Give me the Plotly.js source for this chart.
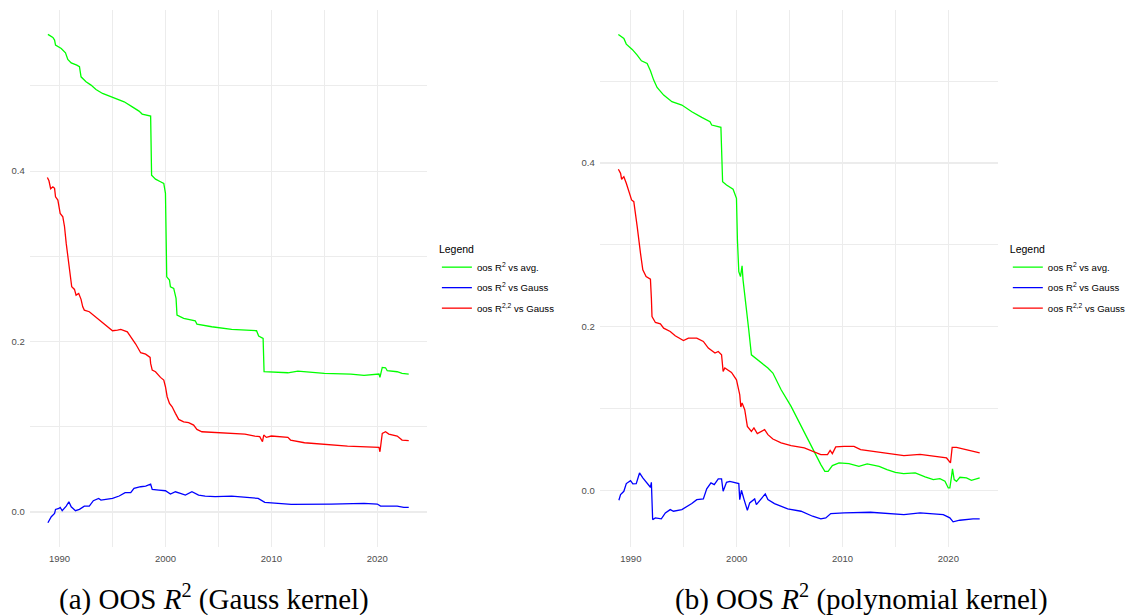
<!DOCTYPE html>
<html>
<head>
<meta charset="utf-8">
<script src="https://cdn.plot.ly/plotly-3.0.1.min.js"></script>
<style>html,body{margin:0;padding:0;background:#fff;}#chart{width:1131px;height:615px;}</style>
</head>
<body>
<div id="chart"></div>
<script>
// ---- Panel (a): Gauss kernel ----
const gaussAvgYears = [1988.9,1989.37,1989.53,1989.62,1990.16,1990.56,1990.78,1991.1,1991.63,1991.88,1992.03,1992.5,1992.97,1993.44,1994.06,1995.0,1996.1,1996.87,1997.5,1997.8,1998.6,1998.69,1999.06,1999.53,1999.84,2000.0,2000.12,2000.38,2000.47,2000.78,2001.0,2001.09,2001.72,2002.81,2002.97,2004.37,2006.25,2008.6,2008.8,2009.22,2009.31,2011.56,2012.5,2015.0,2017.5,2018.75,2020.16,2020.25,2020.47,2020.78,2020.94,2021.88,2022.34,2022.97];
const gaussAvgVals = [0.5604,0.5568,0.5537,0.5478,0.5439,0.5388,0.531,0.527,0.5243,0.5224,0.5106,0.5048,0.5009,0.4958,0.4911,0.4864,0.4813,0.4754,0.4704,0.4669,0.4645,0.3953,0.3906,0.3875,0.3855,0.3739,0.276,0.2721,0.2643,0.2624,0.2507,0.2311,0.2272,0.2244,0.2205,0.2174,0.2143,0.2127,0.2065,0.2037,0.1646,0.1634,0.1654,0.1627,0.1619,0.1603,0.1619,0.158,0.1697,0.1693,0.1658,0.1646,0.1627,0.1619];

const gaussGaussYears = [1988.9,1989.22,1989.53,1989.62,1989.94,1990.06,1990.25,1990.63,1990.88,1991.1,1991.5,1991.88,1992.34,1992.81,1993.19,1993.69,1993.91,1995.0,1995.63,1996.19,1996.72,1997.03,1997.66,1998.13,1998.6,1998.75,1999.38,2000.0,2000.47,2000.94,2001.41,2001.88,2002.5,2003.13,2003.75,2004.69,2006.25,2007.5,2008.75,2009.38,2010.94,2011.88,2015.63,2018.75,2020.0,2020.31,2021.88,2022.5,2022.97];
const gaussGaussVals = [-0.0125,-0.0055,-0.0016,0.0031,0.0043,0.0055,0.0016,0.007,0.0121,0.0062,0.0016,0.0031,0.007,0.007,0.0133,0.016,0.0141,0.016,0.0188,0.0227,0.0227,0.0278,0.0297,0.0305,0.0328,0.0266,0.0258,0.025,0.0211,0.0238,0.0219,0.0199,0.0238,0.0199,0.0188,0.018,0.0188,0.0172,0.016,0.0113,0.0102,0.009,0.0094,0.0102,0.0094,0.007,0.007,0.0055,0.0055];

const gaussR22Years = [1988.85,1989.0,1989.16,1989.37,1989.53,1989.62,1989.84,1989.94,1990.06,1990.31,1990.47,1990.63,1990.78,1991.0,1991.15,1991.41,1991.56,1991.81,1992.03,1992.19,1992.34,1992.81,1993.44,1993.91,1994.38,1995.0,1995.47,1995.78,1996.4,1996.87,1997.19,1997.66,1998.13,1998.55,1998.6,1998.75,1999.06,1999.53,1999.84,2000.0,2000.16,2000.38,2000.63,2000.94,2001.25,2001.72,2002.19,2002.66,2002.97,2003.44,2005.0,2006.25,2007.5,2008.44,2008.9,2009.16,2009.28,2009.53,2010.0,2011.56,2011.81,2013.13,2015.0,2017.19,2020.16,2020.25,2020.47,2020.78,2021.09,2021.88,2022.34,2022.97];
const gaussR22Vals = [0.3926,0.3886,0.3793,0.3816,0.3797,0.3699,0.366,0.3601,0.3504,0.3464,0.3347,0.3152,0.2995,0.2839,0.2643,0.2612,0.2545,0.2565,0.2495,0.2408,0.2369,0.235,0.2284,0.2232,0.2182,0.2127,0.2135,0.2143,0.2115,0.2037,0.1971,0.1869,0.1853,0.1815,0.1744,0.1666,0.1646,0.158,0.1548,0.147,0.1353,0.1275,0.1235,0.1158,0.1087,0.1059,0.1048,0.102,0.097,0.0942,0.093,0.0923,0.0915,0.0892,0.0884,0.0825,0.0903,0.0876,0.0892,0.0876,0.0845,0.0813,0.0798,0.0774,0.0759,0.0707,0.0923,0.0942,0.0915,0.0892,0.0845,0.0837];

// ---- Panel (b): polynomial kernel ----
const polyAvgYears = [1988.82,1989.34,1989.57,1990.13,1990.6,1991.0,1991.54,1991.85,1992.16,1992.48,1993.1,1993.88,1994.82,1995.76,1996.7,1997.48,1997.64,1998.51,1998.67,1999.04,1999.66,1999.98,2000.07,2000.2,2000.36,2000.51,2000.6,2000.83,2001.14,2001.39,2002.17,2002.95,2003.42,2004.2,2005.14,2005.92,2006.7,2007.33,2007.95,2008.33,2008.64,2009.04,2009.67,2010.61,2011.55,2012.33,2013.46,2014.2,2014.99,2015.77,2016.87,2017.8,2018.58,2019.2,2019.68,2019.99,2020.14,2020.3,2020.39,2020.55,2020.77,2021.09,2021.71,2022.18,2022.96];
const polyAvgVals = [0.5571,0.5522,0.5453,0.5388,0.5319,0.5249,0.5217,0.5127,0.5013,0.4924,0.483,0.4749,0.4708,0.4627,0.4558,0.4504,0.4464,0.4436,0.3772,0.3732,0.3679,0.3569,0.306,0.2673,0.2612,0.2743,0.2572,0.2328,0.1962,0.1656,0.1575,0.1494,0.1433,0.1229,0.1025,0.0823,0.064,0.0457,0.0314,0.0232,0.0232,0.0302,0.0334,0.0326,0.0293,0.0322,0.0293,0.0253,0.022,0.0204,0.0212,0.0163,0.0131,0.0143,0.011,0.0029,0.0029,0.0171,0.0261,0.0131,0.011,0.0159,0.0151,0.0122,0.0151];

const polyGaussYears = [1988.87,1989.03,1989.34,1989.57,1989.97,1990.19,1990.51,1990.82,1991.13,1991.54,1991.85,1991.94,1992.06,1992.32,1992.88,1993.26,1993.72,1994.03,1994.82,1995.76,1996.23,1996.85,1997.17,1997.57,1997.88,1998.26,1998.57,1998.72,1999.04,1999.35,1999.98,2000.2,2000.29,2000.45,2000.7,2001.01,2001.23,2001.7,2001.86,2002.33,2002.7,2002.95,2003.57,2004.82,2006.08,2007.17,2007.95,2008.42,2008.89,2010.15,2012.64,2015.8,2017.33,2019.52,2020.14,2020.45,2021.08,2022.33,2022.96];
const polyGaussVals = [-0.0122,-0.0052,-0.0012,0.0082,0.0118,0.0078,0.0082,0.0212,0.0151,0.0078,0.0037,0.0098,-0.0358,-0.0337,-0.0349,-0.0276,-0.0236,-0.0256,-0.0236,-0.0162,-0.0114,-0.0105,0.0017,0.009,0.007,0.0139,0.0139,-0.0012,0.0098,0.011,0.009,0.0082,-0.0114,0.0,-0.0114,-0.0244,-0.0154,-0.0105,-0.0175,-0.0105,-0.0044,-0.0114,-0.0162,-0.0227,-0.0256,-0.0317,-0.0349,-0.0337,-0.0284,-0.0276,-0.0268,-0.0297,-0.0276,-0.0297,-0.0337,-0.0386,-0.0366,-0.0349,-0.0349];

const polyR22Years = [1988.82,1989.03,1989.13,1989.34,1989.57,1989.81,1990.07,1990.28,1990.44,1990.6,1990.91,1991.13,1991.44,1991.85,1991.94,1992.0,1992.32,1992.79,1993.1,1993.72,1994.19,1994.97,1995.44,1996.23,1996.85,1997.32,1997.95,1998.26,1998.57,1998.72,1998.88,1999.51,1999.98,2000.29,2000.39,2000.51,2000.76,2001.01,2001.39,2001.63,2001.95,2002.64,2002.95,2003.42,2004.2,2005.14,2006.39,2007.33,2007.95,2008.58,2008.83,2009.04,2009.36,2010.15,2011.08,2011.71,2013.59,2015.8,2017.33,2018.89,2019.83,2020.2,2020.36,2020.77,2021.71,2022.5,2022.96];
const polyR22Vals = [0.3923,0.3874,0.3801,0.3833,0.3752,0.365,0.3549,0.3528,0.3386,0.3223,0.2898,0.2694,0.2612,0.258,0.2349,0.2124,0.2051,0.2035,0.1982,0.1941,0.1888,0.1831,0.186,0.186,0.1819,0.1738,0.1677,0.1697,0.1656,0.1453,0.1494,0.144,0.1351,0.1168,0.1018,0.1067,0.0985,0.0781,0.072,0.0762,0.0692,0.0741,0.068,0.0627,0.0579,0.0546,0.0518,0.0464,0.0436,0.0436,0.0488,0.0448,0.053,0.0537,0.0537,0.0497,0.0464,0.0424,0.044,0.0415,0.0395,0.0334,0.0525,0.0525,0.0497,0.0476,0.0457];

// ---- labels ----
const seriesNames = ['oos R<sup>2</sup> vs avg.', 'oos R<sup>2</sup> vs Gauss', 'oos R<sup>2,2</sup> vs Gauss'];
const seriesColors = ['#00ff00', '#0000ff', '#ff0000'];
const xTickVals = [1990, 2000, 2010, 2020];
const yTickVals = [0.0, 0.2, 0.4];
const captions = ['(a) OOS <i>R</i><sup>2</sup> (Gauss kernel)', '(b) OOS <i>R</i><sup>2</sup> (polynomial kernel)'];
const legendTitle = 'Legend';

const W = 1131, H = 615;
const px = v => v / W;
const py = v => 1 - v / H;

function mk(x, y, i, xa, ya, lg) {
  return {x: x, y: y, type: 'scatter', mode: 'lines', name: seriesNames[i],
    line: {color: seriesColors[i], width: 1.3}, xaxis: xa, yaxis: ya, legend: lg,
    legendgroup: lg + '_' + i, hoverinfo: 'skip'};
}
const traces = [
  mk(gaussAvgYears, gaussAvgVals, 0, 'x', 'y', 'legend'),
  mk(gaussGaussYears, gaussGaussVals, 1, 'x', 'y', 'legend'),
  mk(gaussR22Years, gaussR22Vals, 2, 'x', 'y', 'legend'),
  mk(polyAvgYears, polyAvgVals, 0, 'x2', 'y2', 'legend2'),
  mk(polyGaussYears, polyGaussVals, 1, 'x2', 'y2', 'legend2'),
  mk(polyR22Years, polyR22Vals, 2, 'x2', 'y2', 'legend2')
];

const tickFont = {family: 'Liberation Sans, Arial, sans-serif', size: 9.5, color: '#4d4d4d'};
const gridC = '#ececec';
function xAx(dom, range, anchor) {
  return {domain: dom, range: range, anchor: anchor, tickvals: xTickVals, ticks: '',
    showgrid: true, gridcolor: gridC, gridwidth: 1.2, zeroline: false, showline: false,
    tickfont: tickFont, ticklabelstandoff: 4,
    minor: {tick0: 1985, dtick: 5, showgrid: true, gridcolor: gridC, gridwidth: 1.2, ticks: ''}};
}
function yAx(dom, range, anchor) {
  return {domain: dom, range: range, anchor: anchor, tickvals: yTickVals, tickformat: '.1f', ticks: '',
    showgrid: true, gridcolor: gridC, gridwidth: 1.2, zeroline: false, showline: false,
    tickfont: tickFont, ticklabelstandoff: 4,
    minor: {tick0: 0.1, dtick: 0.2, showgrid: true, gridcolor: gridC, gridwidth: 1.2, ticks: ''}};
}
const yDom = [py(547), py(10)];
function leg(xpx) {
  return {x: px(xpx), y: py(239), xanchor: 'left', yanchor: 'top', bgcolor: 'rgba(0,0,0,0)',
    borderwidth: 0, itemwidth: 30, tracegroupgap: 1.5,
    title: {text: legendTitle, font: {family: 'Liberation Sans, Arial, sans-serif', size: 10.5, color: '#000'}},
    font: {family: 'Liberation Sans, Arial, sans-serif', size: 9.6, color: '#000'}};
}
const layout = {
  width: W, height: H, margin: {l: 0, r: 0, t: 0, b: 0},
  paper_bgcolor: '#fff', plot_bgcolor: '#fff', showlegend: true,
  xaxis: xAx([px(30), px(430)], [1987.19, 2024.69], 'y'),
  yaxis: yAx(yDom, [-0.041, 0.589], 'x'),
  xaxis2: xAx([px(604), px(1005)], [1987.06, 2024.68], 'y2'),
  yaxis2: yAx(yDom, [-0.0693, 0.587], 'x2'),
  legend: leg(440),
  legend2: leg(1015),
  annotations: [
    {text: captions[0], xref: 'paper', yref: 'paper', x: px(216), y: py(597), xanchor: 'center', yanchor: 'middle',
     showarrow: false, font: {family: 'Liberation Serif, DejaVu Serif, serif', size: 29, color: '#000'}},
    {text: captions[1], xref: 'paper', yref: 'paper', x: px(868), y: py(597), xanchor: 'center', yanchor: 'middle',
     showarrow: false, font: {family: 'Liberation Serif, DejaVu Serif, serif', size: 29, color: '#000'}}
  ]
};
Plotly.newPlot('chart', traces, layout, {staticPlot: true, displayModeBar: false});
</script>
</body>
</html>
